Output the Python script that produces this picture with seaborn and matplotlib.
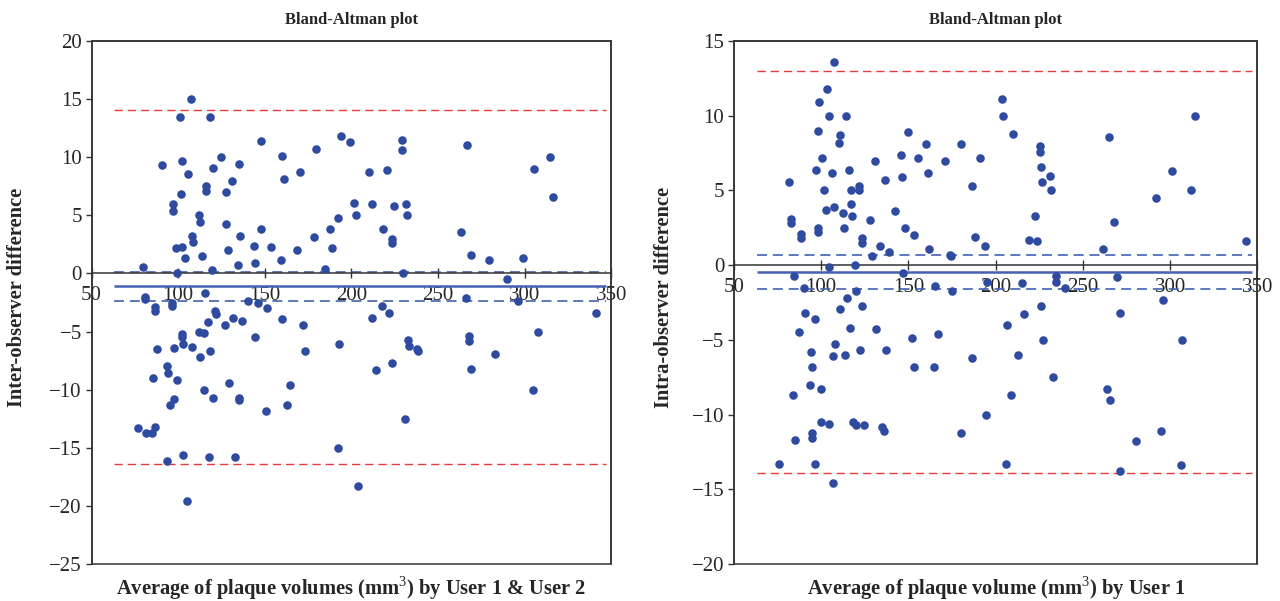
import numpy as np
import pandas as pd
import matplotlib.pyplot as plt
import seaborn as sns

# inter-observer (User 1 vs User 2)
inter_avg = [79.6, 90.4, 97.2, 97.2, 98.8, 99.5, 101.1, 101.4, 102.5, 102.1, 104.2, 105.6, 107.4, 108.1,
             108.6, 112.3, 112.6, 114.0, 116.3, 116.3, 118.2, 119.8, 120.3, 124.9, 127.7, 127.7, 128.9,
             131.0, 134.7, 135.2, 135.9, 143.6, 144.5, 148.0, 148.0, 153.6, 159.2, 159.7, 160.9, 168.8,
             170.4, 178.2, 179.5, 184.9, 187.7, 188.9, 192.4, 194.0, 199.2, 201.7, 202.4, 210.4, 211.8,
             218.1, 220.4, 223.4, 223.7, 224.4, 229.0, 229.5, 230.0, 231.8, 232.3, 263.1, 266.9, 269.2,
             279.2, 290.0, 299.3, 305.4, 314.9, 316.6,
             76.6, 80.8, 80.8, 81.7, 84.8, 85.5, 86.4, 86.4, 86.6, 88.0, 93.6, 94.1, 93.6, 95.5, 96.2,
             96.2, 97.9, 97.9, 99.5, 102.5, 102.5, 103.0, 103.0, 104.9, 107.9, 112.3, 112.6, 114.7, 114.9,
             115.6, 117.0, 117.7, 118.2, 120.3, 121.2, 121.7, 127.0, 129.6, 131.7, 132.9, 135.2, 135.4,
             137.1, 140.1, 144.5, 146.2, 150.8, 151.5, 159.7, 162.9, 164.8, 172.1, 173.2, 192.4, 192.9,
             204.1, 211.8, 214.1, 217.4, 221.8, 223.7, 231.2, 232.8, 233.0, 238.1, 238.4, 265.9, 267.8,
             267.8, 269.2, 283.2, 296.3, 304.9, 307.5, 341.5]
inter_diff = [0.6, 9.3, 6.0, 5.4, 2.2, 0.0, 13.5, 6.8, 9.7, 2.3, 1.3, 8.6, 15.0, 3.2,
              2.7, 5.0, 4.4, 1.5, 7.5, 7.1, 13.5, 0.3, 9.1, 10.0, 7.0, 4.3, 2.0,
              8.0, 0.7, 9.4, 3.2, 2.4, 0.9, 11.4, 3.8, 2.3, 1.2, 10.1, 8.1, 2.0,
              8.7, 3.1, 10.7, 0.4, 3.8, 2.2, 4.8, 11.8, 11.3, 6.1, 5.0, 8.7, 6.0,
              3.8, 8.9, 3.0, 2.6, 5.8, 11.5, 10.6, 0.0, 6.0, 5.0, 3.6, 11.1, 1.6,
              1.2, -0.5, 1.3, 9.0, 10.0, 6.6,
              -13.3, -2.0, -2.2, -13.7, -13.7, -9.0, -2.9, -3.2, -13.2, -6.5, -8.0, -8.6, -16.1, -11.3, -2.5,
              -2.8, -10.8, -6.4, -9.2, -5.2, -5.5, -6.1, -15.6, -19.6, -6.3, -5.0, -7.2, -5.1, -10.0,
              -1.7, -4.2, -15.8, -6.7, -10.7, -3.2, -3.5, -4.4, -9.4, -3.8, -15.8, -10.7, -10.9,
              -4.1, -2.4, -5.5, -2.5, -11.8, -3.0, -3.9, -11.3, -9.6, -4.4, -6.7, -15.0, -6.1,
              -18.3, -3.8, -8.3, -2.8, -3.4, -7.7, -12.5, -5.7, -6.2, -6.5, -6.7, -2.1, -5.4,
              -5.8, -8.2, -6.9, -2.4, -10.0, -5.0, -3.4]
inter_mean = -1.1
inter_ci = [0.1, -2.35]
inter_loa = [14.1, -16.4]

# intra-observer (User 1)
intra_avg = [81.5, 82.9, 82.9, 84.5, 88.3, 88.5, 90.1, 96.9, 98.1, 98.1, 98.1, 98.8, 100.7, 101.8,
             102.5, 103.5, 104.2, 104.4, 106.0, 107.4, 107.4, 110.2, 110.9, 112.6, 113.0, 114.2, 114.7,
             115.8, 116.8, 117.2, 117.5, 119.3, 120.0, 121.9, 121.9, 123.3, 123.5, 128.0, 128.9, 130.8,
             133.6, 136.4, 138.9, 142.4, 145.7, 146.4, 146.6, 148.0, 149.9, 153.2, 155.7, 160.2, 161.1,
             161.8, 165.1, 170.7, 173.9, 174.2, 175.1, 180.3, 186.6, 188.4, 190.8, 193.6, 195.0, 203.8,
             204.3, 209.9, 214.8, 219.0, 222.5, 223.4, 225.3, 225.5, 226.0, 226.4, 231.1, 231.6, 234.4,
             234.6, 239.8, 261.2, 265.0, 267.8, 269.7, 291.8, 295.6, 300.9, 311.7, 314.2, 343.4,
             75.9, 83.6, 85.0, 87.1, 90.8, 94.4, 93.4, 94.8, 94.8, 95.0, 96.2, 96.2, 99.6, 99.6,
             104.6, 106.7, 106.9, 108.1, 110.7, 113.9, 116.5, 118.4, 119.8, 122.1, 123.5, 124.6, 131.2,
             134.9, 136.1, 137.1, 151.8, 153.0, 164.6, 166.8, 180.0, 186.3, 194.3, 205.9, 206.4, 208.5,
             212.5, 216.0, 225.8, 226.9, 233.0, 263.6, 265.7, 271.0, 271.3, 280.2, 294.9, 306.1, 306.8]
intra_diff = [5.6, 3.1, 2.8, -0.7, 2.1, 1.8, -1.5, 6.4, 9.0, 2.5, 2.2, 10.9, 7.2, 5.0,
              3.7, 11.8, -0.1, 10.0, 6.2, 3.9, 13.6, 8.2, 8.7, 3.5, 2.5, 10.0, -2.2,
              6.4, 5.0, 4.1, 3.3, 0.0, -1.7, 5.3, 5.0, 1.8, 1.5, 3.0, 0.6, 7.0,
              1.3, 5.7, 0.9, 3.6, 7.4, 5.9, -0.5, 2.5, 8.9, 2.0, 7.2, 8.1, 6.2,
              1.1, -1.4, 7.0, 0.7, 0.6, -1.7, 8.1, 5.3, 1.9, 7.2, 1.3, -1.1, 11.1,
              10.0, 8.8, -1.2, 1.7, 3.3, 1.6, 8.0, 7.6, 6.6, 5.6, 6.0, 5.0, -0.7,
              -1.1, -1.5, 1.1, 8.6, 2.9, -0.8, 4.5, -2.3, 6.3, 5.0, 10.0, 1.6,
              -13.3, -8.7, -11.7, -4.5, -3.2, -5.8, -8.0, -6.8, -11.2, -11.6, -3.6, -13.3, -8.3, -10.5,
              -10.6, -14.6, -6.1, -5.3, -2.9, -6.0, -4.2, -10.5, -10.7, -5.7, -2.7, -10.7, -4.3,
              -10.8, -11.1, -5.7, -4.9, -6.8, -6.8, -4.6, -11.2, -6.2, -10.0, -13.3, -4.0, -8.7,
              -6.0, -3.3, -2.7, -5.0, -7.5, -8.3, -9.0, -3.2, -13.8, -11.8, -11.1, -13.4, -5.0]
intra_mean = -0.45
intra_ci = [0.65, -1.57]
intra_loa = [13.0, -13.9]

line_x = [63, 347]

DOT = "#2f4ba0"
RED = "#e83c3c"
BLUE = "#4660b4"
FRAME = "#333333"

sns.set_style("white")
plt.rcParams["font.family"] = ["Liberation Serif", "DejaVu Serif"]
plt.rcParams["mathtext.fontset"] = "custom"
plt.rcParams["mathtext.rm"] = "Liberation Serif"
plt.rcParams["mathtext.bf"] = "Liberation Serif:bold"


def bland_altman(ax, avg, diff, mean, ci, loa, ylim, ylabel, xlabel):
    df = pd.DataFrame({"avg": avg, "diff": diff})
    sns.scatterplot(data=df, x="avg", y="diff", ax=ax, color=DOT, s=38,
                    linewidth=0, zorder=4)
    ax.hlines(loa, line_x[0], line_x[1], colors=RED, linestyles=(0, (6, 3.5)), lw=1.0, zorder=2)
    ax.hlines(ci, line_x[0], line_x[1], colors=BLUE, linestyles=(0, (6, 3.5)), lw=1.2, zorder=2)
    ax.hlines(mean, line_x[0], line_x[1], colors=BLUE, lw=1.8, zorder=2)

    ax.set_xlim(50, 350)
    ax.set_ylim(*ylim)
    ax.set_xticks(np.arange(50, 351, 50))
    ax.set_yticks(np.arange(ylim[0], ylim[1] + 1, 5))

    # x axis crosses at zero, box kept around the plot
    ax.spines["bottom"].set_position(("data", 0))
    for s in ax.spines.values():
        s.set_color(FRAME)
        s.set_linewidth(1.1)
    ax.patch.set_edgecolor(FRAME)
    ax.patch.set_linewidth(1.1)
    ax.tick_params(axis="x", bottom=True, direction="inout", length=7, width=1,
                   color=FRAME, labelsize=15, pad=5.5)
    ax.tick_params(axis="y", left=True, direction="out", length=4, width=1,
                   color=FRAME, labelsize=15, pad=3)

    ax.set_title("Bland-Altman plot", fontweight="bold", fontsize=12, pad=12.5)
    ax.set_xlabel(xlabel, fontweight="bold", fontsize=14.8)
    ax.xaxis.set_label_coords(0.5, -0.02)
    ax.set_ylabel(ylabel, fontweight="bold", fontsize=14.8)


fig = plt.figure(figsize=(12.8, 6.01), dpi=100)
ax1 = fig.add_axes([0.0715, 0.0616, 0.406, 0.870])
ax2 = fig.add_axes([0.5734, 0.0616, 0.409, 0.870])

bland_altman(ax1, inter_avg, inter_diff, inter_mean, inter_ci, inter_loa, (-25, 20),
             "Inter-observer difference",
             "Average of plaque volumes (mm$^{3}$) by User 1 & User 2")
ax1.yaxis.set_label_coords(-0.124, 0.51)

bland_altman(ax2, intra_avg, intra_diff, intra_mean, intra_ci, intra_loa, (-20, 15),
             "Intra-observer difference",
             "Average of plaque volume (mm$^{3}$) by User 1")
ax2.yaxis.set_label_coords(-0.115, 0.51)

plt.savefig("out.png", dpi=100, facecolor="w")
plt.close()
